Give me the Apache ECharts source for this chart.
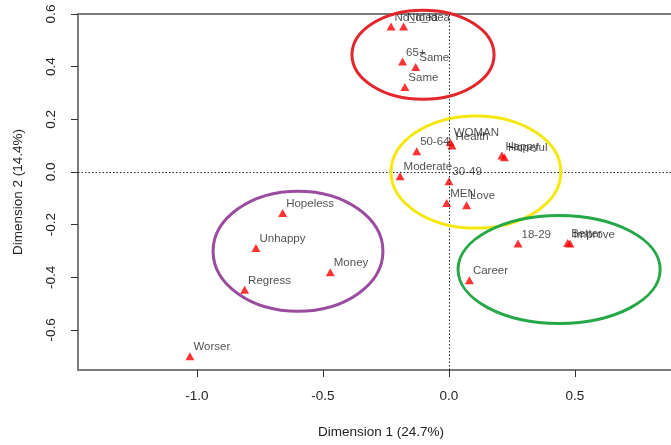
<!DOCTYPE html>
<html>
<head>
<meta charset="utf-8">
<script src="https://cdn.jsdelivr.net/npm/echarts@6/dist/echarts.min.js"></script>
<style>
  html, body { margin: 0; padding: 0; background: #fff; }
  #chart { width: 671px; height: 445px; }
</style>
</head>
<body>
<div id="chart"></div>
<script>
// Correspondence analysis map: category coordinates on the first two dimensions
const pointLabels = ['No_Idea', 'No_idea', '65+', 'Same', 'Same', '50-64', 'WOMAN', 'Health',
  'Happy', 'Hopeful', 'Moderate', '30-49', 'MEN', 'Love', 'Hopeless', 'Unhappy', 'Money',
  'Regress', '18-29', 'Better', 'Improve', 'Career', 'Worser'];
const dim1 = [-0.230, -0.180, -0.184, -0.132, -0.175, -0.128, 0.005, 0.012,
  0.210, 0.220, -0.194, 0.000, -0.009, 0.070, -0.660, -0.766, -0.471,
  -0.811, 0.274, 0.471, 0.480, 0.081, -1.028];
const dim2 = [0.553, 0.553, 0.420, 0.399, 0.323, 0.079, 0.113, 0.101,
  0.063, 0.056, -0.016, -0.035, -0.118, -0.126, -0.156, -0.289, -0.381,
  -0.447, -0.272, -0.270, -0.272, -0.411, -0.700];

const xTicks = [-1.0, -0.5, 0.0, 0.5];
const yTicks = [-0.6, -0.4, -0.2, 0.0, 0.2, 0.4, 0.6];

// Group outlines: centre and half-axes, in dimension units
const groupColors = ['#e3262b', '#f6e80f', '#9a4c9f', '#26a849'];
const groupCx = [-0.103, 0.107, -0.599, 0.437];
const groupCy = [0.445, 0.000, -0.301, -0.370];
const groupRx = [0.282, 0.337, 0.337, 0.401];
const groupRy = [0.169, 0.213, 0.228, 0.205];

const points = dim1.map((x, i) => [x, dim2[i], pointLabels[i]]);
const groups = groupCx.map((cx, i) => [cx, groupCy[i], groupRx[i], groupRy[i], groupColors[i]]);

const FONT = 'Liberation Sans, Arial, sans-serif';
const FRAME = { color: '#7a7a7a', width: 2 };
const chart = echarts.init(document.getElementById('chart'), null, { renderer: 'canvas' });

chart.setOption({
  animation: false,
  backgroundColor: '#ffffff',
  grid: { left: 78, top: 14, width: 593, height: 356, show: false },
  xAxis: [
    {
      type: 'value', min: -1.472, max: 0.881, position: 'bottom',
      name: 'Dimension 1 (24.7%)', nameLocation: 'middle', nameGap: 55,
      nameTextStyle: { fontFamily: FONT, fontSize: 13.5, color: '#222', padding: [0, 0, 0, 13] },
      axisLine: { show: true, onZero: false, lineStyle: FRAME },
      axisTick: { show: true, length: 7, customValues: xTicks, lineStyle: { color: '#333' } },
      axisLabel: { customValues: xTicks, margin: 19, fontFamily: FONT, fontSize: 13.5, color: '#222',
        formatter: v => v.toFixed(1) },
      splitLine: { show: false }
    },
    {
      // upper edge of the frame
      type: 'value', min: -1.472, max: 0.881, position: 'top',
      axisLine: { show: true, onZero: false, lineStyle: FRAME },
      axisTick: { show: false }, axisLabel: { show: false }, splitLine: { show: false }
    }
  ],
  yAxis: {
    type: 'value', min: -0.752, max: 0.6,
    name: 'Dimension 2 (14.4%)', nameLocation: 'middle', nameGap: 53,
    nameTextStyle: { fontFamily: FONT, fontSize: 13.5, color: '#222' },
    axisLine: { show: true, onZero: false, lineStyle: FRAME },
    axisTick: { show: true, length: 7, customValues: yTicks, lineStyle: { color: '#333' } },
    axisLabel: { customValues: yTicks, rotate: 90, margin: 20, fontFamily: FONT, fontSize: 13.5, color: '#222',
      formatter: v => v.toFixed(1) },
    splitLine: { show: false }
  },
  series: [
    {
      type: 'scatter',
      data: points,
      symbol: 'triangle',
      symbolSize: [9, 8],
      itemStyle: { color: '#ff0000' },
      label: {
        show: true,
        formatter: p => p.data[2],
        position: 'right',
        distance: 5,
        offset: [-6, -9],
        fontFamily: FONT, fontSize: 11.5, color: '#1f1f1f'
      },
      markLine: {
        silent: true,
        symbol: 'none',
        label: { show: false },
        lineStyle: { color: '#222', width: 1, type: [1.5, 2] },
        data: [{ xAxis: 0 }, { yAxis: 0 }]
      },
      z: 3
    },
    {
      type: 'custom',
      data: groups,
      clip: false,
      z: 5,
      renderItem: (params, api) => {
        const c = api.coord([api.value(0), api.value(1)]);
        const s = api.size([api.value(2), api.value(3)]);
        return {
          type: 'ellipse',
          shape: { cx: c[0], cy: c[1], rx: s[0], ry: s[1] },
          style: { fill: 'none', stroke: groups[params.dataIndex][4], lineWidth: 3 }
        };
      }
    }
  ]
});
</script>
</body>
</html>
